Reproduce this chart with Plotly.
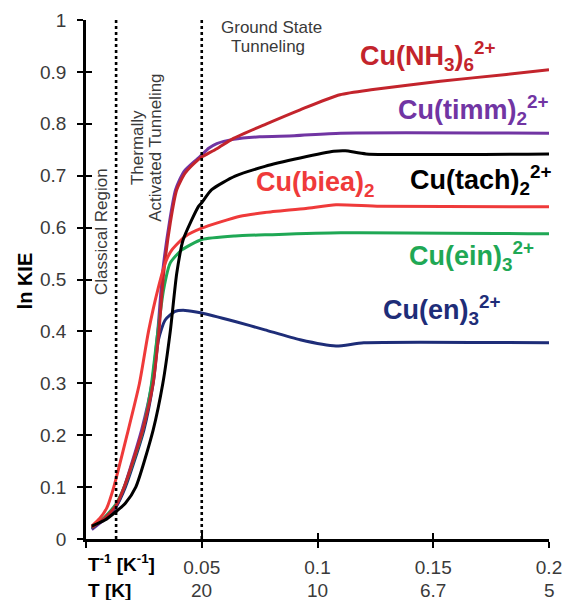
import plotly.graph_objects as go

# ---------------- data ----------------
x_tick_vals = [0, 0.05, 0.1, 0.15, 0.2]
x_tick_inv = ["", "0.05", "0.1", "0.15", "0.2"]
x_tick_T = ["", "20", "10", "6.7", "5"]
y_tick_vals = [0, 0.1, 0.2, 0.3, 0.4, 0.5, 0.6, 0.7, 0.8, 0.9, 1]
y_tick_text = ["0", "0.1", "0.2", "0.3", "0.4", "0.5", "0.6", "0.7", "0.8", "0.9", "1"]
region_bounds = [0.013, 0.05]

nh3_x = [0.0025, 0.008, 0.013, 0.0165, 0.0245, 0.0290, 0.0315, 0.0335, 0.0364, 0.0392, 0.0428, 0.0485, 0.05,
         0.0565, 0.0637, 0.078, 0.0925, 0.1097, 0.124, 0.153, 0.1816, 0.2]
nh3_y = [0.022, 0.04, 0.065, 0.10, 0.21, 0.30, 0.40, 0.51, 0.609, 0.673, 0.705, 0.731, 0.736,
         0.752, 0.772, 0.80, 0.827, 0.856, 0.866, 0.882, 0.895, 0.904]

timm_x = [0.0025, 0.008, 0.013, 0.0165, 0.024, 0.0285, 0.031, 0.033, 0.036, 0.0387, 0.0423, 0.048, 0.05,
          0.053, 0.0565, 0.0637, 0.075, 0.09, 0.11, 0.2]
timm_y = [0.018, 0.038, 0.062, 0.10, 0.21, 0.30, 0.40, 0.51, 0.609, 0.673, 0.708, 0.732, 0.740,
          0.753, 0.762, 0.770, 0.775, 0.777, 0.782, 0.782]

tach_x = [0.0025, 0.008, 0.013, 0.017, 0.0215, 0.029, 0.0332, 0.0364, 0.0392, 0.042, 0.0486, 0.05, 0.0543,
          0.0644, 0.0773, 0.0925, 0.107, 0.112, 0.121, 0.2]
tach_y = [0.025, 0.036, 0.053, 0.069, 0.10, 0.21, 0.30, 0.40, 0.512, 0.577, 0.641, 0.648, 0.673,
          0.699, 0.718, 0.734, 0.747, 0.748, 0.742, 0.742]

biea_x = [0.0025, 0.006, 0.009, 0.012, 0.0177, 0.0231, 0.027, 0.031, 0.0345, 0.0371, 0.0428, 0.05, 0.0666,
          0.0773, 0.095, 0.108, 0.127, 0.2]
biea_y = [0.025, 0.04, 0.06, 0.10, 0.20, 0.30, 0.40, 0.48, 0.535, 0.557, 0.583, 0.599, 0.622,
          0.629, 0.637, 0.644, 0.641, 0.640]

ein_x = [0.0025, 0.008, 0.013, 0.0165, 0.024, 0.028, 0.0306, 0.0335, 0.0364, 0.0414, 0.05, 0.0644, 0.0773,
         0.11, 0.2]
ein_y = [0.022, 0.042, 0.068, 0.10, 0.20, 0.29, 0.384, 0.48, 0.532, 0.557, 0.577, 0.584, 0.586,
         0.590, 0.588]

en_x = [0.0025, 0.008, 0.013, 0.017, 0.025, 0.029, 0.0313, 0.0342, 0.0385, 0.0428, 0.05, 0.0644, 0.0773,
        0.0925, 0.108, 0.12, 0.2]
en_y = [0.02, 0.04, 0.063, 0.10, 0.21, 0.30, 0.384, 0.422, 0.4385, 0.4405, 0.4355, 0.419, 0.403,
        0.384, 0.372, 0.378, 0.378]

series_names = ["Cu(timm)2", "Cu(en)3", "Cu(ein)3", "Cu(NH3)6", "Cu(biea)2", "Cu(tach)2"]
series_x = [timm_x, en_x, ein_x, nh3_x, biea_x, tach_x]
series_y = [timm_y, en_y, ein_y, nh3_y, biea_y, tach_y]
series_colors = ["#7135a3", "#1e2d78", "#1fa855", "#c3242c", "#ef3a3a", "#000000"]

label_text = ["Cu(NH<sub>3</sub>)<sub>6</sub><sup>2+</sup>", "Cu(timm)<sub>2</sub><sup>2+</sup>",
              "Cu(tach)<sub>2</sub><sup>2+</sup>", "Cu(biea)<sub>2</sub>",
              "Cu(ein)<sub>3</sub><sup>2+</sup>", "Cu(en)<sub>3</sub><sup>2+</sup>"]
label_x = [0.1175, 0.1338, 0.139, 0.0725, 0.1385, 0.1275]
label_y = [0.931, 0.827, 0.692, 0.684, 0.545, 0.442]
label_colors = ["#c3242c", "#7135a3", "#000000", "#ef3a3a", "#1fa855", "#1e2d78"]

FONT = "Liberation Sans, Arial, sans-serif"
GRAY = "#3a3a3a"

fig = go.Figure()

for nm, xs, ys, c in zip(series_names, series_x, series_y, series_colors):
    fig.add_trace(go.Scatter(x=xs, y=ys, mode="lines", name=nm,
                             line=dict(color=c, width=3, shape="spline", smoothing=0.6),
                             showlegend=False, hoverinfo="skip"))

# region boundaries (dotted verticals)
for xb in region_bounds:
    fig.add_shape(type="line", xref="x", yref="y", x0=xb, x1=xb, y0=0, y1=1,
                  line=dict(color="black", width=2.6, dash="dot"), layer="above")

# helper trace for overlay axes (inner half of crossing ticks)
fig.add_trace(go.Scatter(x=[None], y=[None], xaxis="x2", yaxis="y2", showlegend=False, hoverinfo="skip"))

axis_common = dict(showgrid=False, zeroline=False, showline=True, linecolor="black", linewidth=2.5,
                   ticks="outside", ticklen=6, tickwidth=2, tickcolor="black", automargin=False)

fig.update_layout(
    width=565, height=600,
    margin=dict(l=86, r=16, t=20, b=61, autoexpand=False),
    paper_bgcolor="white", plot_bgcolor="white",
    font=dict(family=FONT, color=GRAY, size=19),
    xaxis=dict(range=[0, 0.2], tickvals=x_tick_vals, ticktext=x_tick_inv,
               tickfont=dict(size=19, color=GRAY), ticklabelstandoff=3, **axis_common),
    yaxis=dict(range=[0, 1], tickvals=y_tick_vals, ticktext=y_tick_text,
               tickfont=dict(size=19, color=GRAY), ticklabelstandoff=7, **axis_common),
    xaxis2=dict(range=[0, 0.2], overlaying="x", anchor="y2", side="bottom", tickvals=x_tick_vals,
                showticklabels=False, showgrid=False, zeroline=False, showline=False, automargin=False,
                ticks="inside", ticklen=6, tickwidth=2, tickcolor="black"),
    yaxis2=dict(range=[0, 1], overlaying="y", anchor="x2", side="left", tickvals=y_tick_vals,
                showticklabels=False, showgrid=False, zeroline=False, showline=False, automargin=False,
                ticks="inside", ticklen=6, tickwidth=2, tickcolor="black"),
)

annotations = []
for t, lx, ly, c in zip(label_text, label_x, label_y, label_colors):
    annotations.append(dict(text="<b>" + t + "</b>", x=lx, y=ly, xref="x", yref="y",
                            xanchor="left", yanchor="middle", showarrow=False,
                            font=dict(family=FONT, size=27, color=c)))

# second row of x tick labels (temperature in K)
for tv, tt in zip(x_tick_vals, x_tick_T):
    if tt:
        annotations.append(dict(text=tt, x=tv, y=0, xref="x", yref="paper", xanchor="center",
                                yanchor="middle", yshift=-51, showarrow=False,
                                font=dict(family=FONT, size=19, color=GRAY)))

# region labels
annotations.append(dict(text="Classical Region", x=0.0066, y=0.592, xref="x", yref="y", textangle=-90,
                        showarrow=False, font=dict(family=FONT, size=17, color=GRAY)))
annotations.append(dict(text="Thermally", x=0.0222, y=0.754, xref="x", yref="y", textangle=-90,
                        showarrow=False, font=dict(family=FONT, size=17, color=GRAY)))
annotations.append(dict(text="Activated Tunneling", x=0.0303, y=0.754, xref="x", yref="y", textangle=-90,
                        showarrow=False, font=dict(family=FONT, size=17, color=GRAY)))
annotations.append(dict(text="Ground State", x=0.0800, y=0.985, xref="x", yref="y",
                        showarrow=False, font=dict(family=FONT, size=17, color=GRAY)))
annotations.append(dict(text="Tunneling", x=0.0787, y=0.948, xref="x", yref="y",
                        showarrow=False, font=dict(family=FONT, size=17, color=GRAY)))

# axis captions
annotations.append(dict(text="<b>ln KIE</b>", x=-0.132, y=0.498, xref="paper", yref="paper", textangle=-90,
                        xanchor="center", yanchor="middle",
                        showarrow=False, font=dict(family=FONT, size=20, color="black")))
annotations.append(dict(text="<b>T<sup>-1</sup> [K<sup>-1</sup>]</b>", x=0.0, y=0,
                        xref="x", yref="paper", xanchor="left", yanchor="middle", yshift=-24,
                        showarrow=False, font=dict(family=FONT, size=19, color="black")))
annotations.append(dict(text="<b>T [K]</b>", x=0.0, y=0,
                        xref="x", yref="paper", xanchor="left", yanchor="middle", yshift=-51,
                        showarrow=False, font=dict(family=FONT, size=19, color="black")))

fig.update_layout(annotations=annotations)

fig.write_html("out.html", config={"displayModeBar": False},
               post_script="document.body.style.margin='0px';document.body.style.overflow='hidden';")
